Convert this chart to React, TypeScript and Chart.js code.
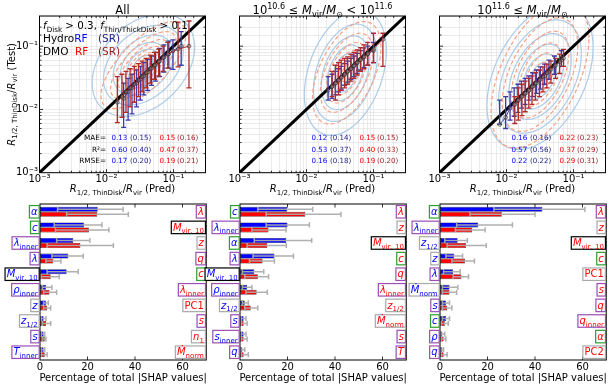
import React, { useEffect, useRef } from 'react';
import { Chart, registerables } from 'chart.js';
Chart.register(...registerables);

const W = 611, H = 386;
const FF = '"DejaVu Sans", sans-serif';

// ---------- axes ----------
const axisRange = [0.001, 0.3];
const logTickValues = [0.001, 0.01, 0.1];
const logTickLabels = ['10⁻³', '10⁻²', '10⁻¹'];
const barRange = [0, 70];
const barTickValues = [0, 20, 40, 60];

// ---------- top panels: binned medians with 16-84 ranges ----------
const hydroX1 = [0.018, 0.021, 0.024, 0.028, 0.032, 0.036, 0.041, 0.047, 0.054, 0.062, 0.072, 0.085, 0.098, 0.13];
const hydroMed1 = [0.015, 0.019, 0.022, 0.026, 0.03, 0.034, 0.039, 0.045, 0.051, 0.058, 0.067, 0.076, 0.085, 0.1];
const hydroLo1 = [0.0052, 0.0068, 0.0085, 0.011, 0.014, 0.017, 0.02, 0.024, 0.028, 0.033, 0.039, 0.045, 0.043, 0.05];
const hydroHi1 = [0.026, 0.031, 0.036, 0.042, 0.048, 0.055, 0.062, 0.07, 0.08, 0.092, 0.105, 0.12, 0.126, 0.17];
const dmoX1 = [0.0145, 0.017, 0.0195, 0.0225, 0.026, 0.03, 0.034, 0.039, 0.045, 0.052, 0.06, 0.07, 0.082, 0.117, 0.17];
const dmoMed1 = [0.013, 0.016, 0.019, 0.022, 0.025, 0.029, 0.033, 0.038, 0.044, 0.05, 0.057, 0.066, 0.075, 0.09, 0.1];
const dmoLo1 = [0.0062, 0.0075, 0.009, 0.011, 0.013, 0.016, 0.019, 0.022, 0.026, 0.03, 0.034, 0.04, 0.045, 0.047, 0.022];
const dmoHi1 = [0.033, 0.036, 0.04, 0.044, 0.048, 0.053, 0.058, 0.064, 0.072, 0.08, 0.09, 0.1, 0.115, 0.24, 0.25];

const hydroX2 = [0.021, 0.024, 0.027, 0.03, 0.033, 0.037, 0.041, 0.046, 0.051, 0.057, 0.064, 0.072, 0.082, 0.1];
const hydroMed2 = [0.02, 0.023, 0.026, 0.029, 0.032, 0.036, 0.04, 0.044, 0.049, 0.055, 0.062, 0.068, 0.076, 0.085];
const hydroLo2 = [0.014, 0.015, 0.017, 0.019, 0.021, 0.024, 0.027, 0.03, 0.033, 0.037, 0.042, 0.046, 0.05, 0.055];
const hydroHi2 = [0.033, 0.036, 0.04, 0.044, 0.048, 0.053, 0.058, 0.064, 0.07, 0.077, 0.085, 0.094, 0.1, 0.115];
const dmoX2 = [0.024, 0.027, 0.03, 0.033, 0.037, 0.041, 0.046, 0.051, 0.057, 0.064, 0.072, 0.082, 0.1, 0.138];
const dmoMed2 = [0.023, 0.026, 0.029, 0.032, 0.036, 0.04, 0.044, 0.049, 0.055, 0.061, 0.068, 0.076, 0.09, 0.128];
const dmoLo2 = [0.016, 0.014, 0.017, 0.02, 0.022, 0.025, 0.028, 0.031, 0.035, 0.04, 0.044, 0.05, 0.055, 0.048];
const dmoHi2 = [0.04, 0.05, 0.055, 0.06, 0.064, 0.068, 0.074, 0.08, 0.087, 0.095, 0.105, 0.115, 0.16, 0.16];

const hydroX3 = [0.0079, 0.0097, 0.0113, 0.013, 0.0148, 0.0167, 0.019, 0.0215, 0.0245, 0.028, 0.032, 0.037, 0.043, 0.052, 0.066];
const hydroMed3 = [0.0058, 0.0075, 0.0105, 0.012, 0.014, 0.016, 0.018, 0.02, 0.023, 0.026, 0.03, 0.034, 0.04, 0.048, 0.06];
const hydroLo3 = [0.0058, 0.005, 0.0068, 0.0078, 0.009, 0.0105, 0.012, 0.014, 0.016, 0.018, 0.021, 0.025, 0.03, 0.036, 0.048];
const hydroHi3 = [0.014, 0.016, 0.019, 0.022, 0.025, 0.028, 0.031, 0.034, 0.038, 0.042, 0.047, 0.052, 0.06, 0.07, 0.085];
const dmoX3 = [0.0133, 0.015, 0.017, 0.019, 0.0215, 0.024, 0.027, 0.031, 0.035, 0.04, 0.046, 0.054, 0.062, 0.071];
const dmoMed3 = [0.012, 0.014, 0.016, 0.018, 0.02, 0.023, 0.026, 0.029, 0.033, 0.038, 0.043, 0.05, 0.057, 0.065];
const dmoLo3 = [0.006, 0.0068, 0.008, 0.0092, 0.0105, 0.012, 0.014, 0.016, 0.019, 0.022, 0.026, 0.031, 0.037, 0.048];
const dmoHi3 = [0.016, 0.022, 0.025, 0.028, 0.031, 0.034, 0.038, 0.042, 0.047, 0.052, 0.058, 0.064, 0.075, 0.089];

// density contours: [log centre x, log centre y, half-width x (dex), half-height y (dex), correlation]
const hydroContour1 = [-1.45, -1.3, 0.85, 0.9, 0.35];
const dmoContour1 = [-1.45, -1.3, 0.72, 0.78, 0.7];
const hydroContour2 = [-1.42, -1.42, 0.68, 1.1, 0.35];
const dmoContour2 = [-1.4, -1.42, 0.58, 0.92, 0.5];
const hydroContour3 = [-1.5, -1.48, 0.88, 1.28, 0.4];
const dmoContour3 = [-1.5, -1.45, 0.83, 1.32, 0.5];
const hydroLevels = [0.9, 0.7, 0.53, 0.4, 0.28, 0.17];
const dmoLevels = [0.88, 0.68, 0.52, 0.38, 0.26, 0.15];

// metrics [MAE, R2, RMSE]
const metricNames = ['MAE=', 'R²=', 'RMSE='];
const hydroRF1 = [0.13, 0.6, 0.17], hydroSR1 = [0.15, 0.4, 0.2], dmoRF1 = [0.15, 0.47, 0.19], dmoSR1 = [0.16, 0.37, 0.21];
const hydroRF2 = [0.12, 0.53, 0.16], hydroSR2 = [0.14, 0.37, 0.18], dmoRF2 = [0.15, 0.4, 0.19], dmoSR2 = [0.15, 0.33, 0.2];
const hydroRF3 = [0.16, 0.57, 0.22], hydroSR3 = [0.16, 0.56, 0.22], dmoRF3 = [0.22, 0.37, 0.29], dmoSR3 = [0.23, 0.29, 0.31];

// ---------- bottom panels: SHAP importances ----------
const hydroFeat1 = ['α', 'c', 'λ_inner', 'λ', 'M_vir, 10', 'ρ_inner', 'z', 'z_1/2', 's', 'T_inner'];
const hydroVal1 = [24.3, 18.5, 14, 11.9, 11.2, 2.5, 2.5, 1.5, 1.5, 1.5];
const hydroErrLo1 = [7.4, 6, 7, 5, 3, 1, 1.5, 0.5, 0.5, 0.5];
const hydroErrHi1 = [35, 26.1, 21, 18.2, 16.1, 5, 3.5, 2.5, 2, 2];
const dmoFeat1 = ['λ', 'M_vir, 10', 'z', 'q', 'c', 'λ_inner', 'PC1', 's', 'n_1', 'Ṁ_norm'];
const dmoVal1 = [24.1, 20.6, 17, 5.6, 4.5, 4, 3, 2.5, 2, 2];
const dmoErrLo1 = [11.2, 6.5, 3, 2.5, 0.5, 1.5, 1.5, 1, 1, 0.5];
const dmoErrHi1 = [37.2, 29, 30.9, 8.8, 8.1, 7, 4.5, 4.5, 2.5, 3];

const hydroFeat2 = ['c', 'λ_inner', 'α', 'λ', 'M_vir, 10', 'ρ_inner', 'z_1/2', 's', 's_inner', 'q'];
const hydroVal2 = [19.9, 20, 19.5, 14.5, 6, 3, 2, 1.5, 1.5, 1];
const hydroErrLo2 = [7.5, 11, 6, 5.5, 1, 1, 1, 0.5, 0.5, 0.3];
const hydroErrHi2 = [30.6, 29.2, 30.2, 22.5, 10, 5, 3.5, 2.5, 2.5, 2];
const dmoFeat2 = ['λ', 'z', 'M_vir, 10', 'c', 'q', 'λ_inner', 'z_1/2', 'Ṁ_norm', 's', 'T'];
const dmoVal2 = [27.5, 12, 11.5, 9.5, 7.5, 7, 4.5, 1.5, 1.5, 1.5];
const dmoErrLo2 = [11, 5, 3, 4, 2, 2.5, 2, 0.5, 0.5, 0.5];
const dmoErrHi2 = [42.5, 19.4, 19.5, 14.5, 12, 11.5, 7.5, 3, 3, 3.5];

const hydroFeat3 = ['α', 'λ_inner', 'z_1/2', 'z', 'λ', 'Ṁ_norm', 's', 'c', 'ρ', 'q'];
const hydroVal3 = [43.1, 16.1, 7.4, 6, 5.5, 4, 2.5, 2.5, 1, 1];
const hydroErrLo3 = [22.7, 7, 2, 2.5, 1.5, 1, 1, 1, 0.3, 0.3];
const hydroErrHi3 = [61, 30.5, 11.5, 9.5, 8.5, 7.5, 4, 4, 2, 1.5];
const dmoFeat3 = ['λ', 'z', 'M_vir, 10', 'c', 'PC1', 's', 'q', 'q_inner', 'α', 'PC2'];
const dmoVal3 = [26, 13.5, 10.9, 10.5, 9, 4, 3, 2, 1.5, 1.5];
const dmoErrLo3 = [12.6, 6.5, 3, 5, 5.5, 1, 1, 0.5, 0.5, 0.5];
const dmoErrHi3 = [40, 19, 19.5, 14.5, 12, 7, 5, 3.5, 2.5, 3];

const greenFeats = ['α', 'c'];
const purpleFeats = ['λ', 'λ_inner', 'ρ_inner', 'ρ', 's', 's_inner', 'T_inner', 'T', 'q', 'q_inner'];
const blackFeats = ['M_vir, 10'];

const COL = {
  hydro: '#0000ff', hydroSR: '#24248f', dmo: '#ff0000', dmoSR: '#9b1b1b',
  hydroErr: '#3a3aa8', dmoErr: '#b02a2a', contourH: '#abcbe8', contourD: '#f6a184',
  barErr: 'rgba(172,172,172,0.95)', green: '#2e9e2e', purple: '#9b4fb5', gray: '#a8a8a8',
};

type Seg = { t: string; it?: boolean; sub?: boolean; sup?: boolean; c?: string };

const titleSegs: Seg[][] = [
  [{ t: 'All' }],
  [{ t: '10' }, { t: '10.6', sup: true }, { t: ' ≤ ' }, { t: 'M', it: true }, { t: 'vir', sub: true }, { t: '/' }, { t: 'M', it: true }, { t: '⊙', sub: true }, { t: ' < ' }, { t: '10' }, { t: '11.6', sup: true }],
  [{ t: '10' }, { t: '11.6', sup: true }, { t: ' ≤ ' }, { t: 'M', it: true }, { t: 'vir', sub: true }, { t: '/' }, { t: 'M', it: true }, { t: '⊙', sub: true }],
];

const topPanels = [
  { hx: hydroX1, hm: hydroMed1, hl: hydroLo1, hh: hydroHi1, dx: dmoX1, dm: dmoMed1, dl: dmoLo1, dh: dmoHi1, hc: hydroContour1, dc: dmoContour1, met: [hydroRF1, hydroSR1, dmoRF1, dmoSR1] },
  { hx: hydroX2, hm: hydroMed2, hl: hydroLo2, hh: hydroHi2, dx: dmoX2, dm: dmoMed2, dl: dmoLo2, dh: dmoHi2, hc: hydroContour2, dc: dmoContour2, met: [hydroRF2, hydroSR2, dmoRF2, dmoSR2] },
  { hx: hydroX3, hm: hydroMed3, hl: hydroLo3, hh: hydroHi3, dx: dmoX3, dm: dmoMed3, dl: dmoLo3, dh: dmoHi3, hc: hydroContour3, dc: dmoContour3, met: [hydroRF3, hydroSR3, dmoRF3, dmoSR3] },
];
const barPanels = [
  { hf: hydroFeat1, hv: hydroVal1, hl: hydroErrLo1, hh: hydroErrHi1, df: dmoFeat1, dv: dmoVal1, dl: dmoErrLo1, dh: dmoErrHi1 },
  { hf: hydroFeat2, hv: hydroVal2, hl: hydroErrLo2, hh: hydroErrHi2, df: dmoFeat2, dv: dmoVal2, dl: dmoErrLo2, dh: dmoErrHi2 },
  { hf: hydroFeat3, hv: hydroVal3, hl: hydroErrLo3, hh: hydroErrHi3, df: dmoFeat3, dv: dmoVal3, dl: dmoErrLo3, dh: dmoErrHi3 },
];

// ---------- text helpers ----------
function segFont(s: Seg, fs: number) {
  const size = s.sub || s.sup ? fs * 0.7 : fs;
  return `${s.it ? 'italic ' : ''}${size}px ${FF}`;
}
function richWidth(ctx: CanvasRenderingContext2D, segs: Seg[], fs: number) {
  let w = 0;
  for (const s of segs) { ctx.font = segFont(s, fs); w += ctx.measureText(s.t).width; }
  return w;
}
function drawRich(ctx: CanvasRenderingContext2D, segs: Seg[], x: number, y: number, fs: number, align = 'left', color = '#000') {
  const w = richWidth(ctx, segs, fs);
  let cx = align === 'left' ? x : align === 'center' ? x - w / 2 : x - w;
  ctx.textAlign = 'left';
  ctx.textBaseline = 'alphabetic';
  for (const s of segs) {
    ctx.font = segFont(s, fs);
    ctx.fillStyle = s.c || color;
    const dy = s.sub ? fs * 0.28 : s.sup ? -fs * 0.42 : 0;
    ctx.fillText(s.t, cx, y + dy);
    cx += ctx.measureText(s.t).width;
  }
  return w;
}
function featSegs(f: string): Seg[] {
  const [main, sub] = f.split('_');
  const segs: Seg[] = [{ t: main, it: !/^PC/.test(main) }];
  if (sub) segs.push({ t: sub, sub: true });
  return segs;
}
function boxColor(f: string) {
  if (greenFeats.includes(f)) return COL.green;
  if (purpleFeats.includes(f)) return COL.purple;
  if (blackFeats.includes(f)) return '#000';
  return COL.gray;
}
function drawBoxLabel(ctx: CanvasRenderingContext2D, f: string, xRight: number, yc: number, color: string) {
  const fs = 10, padX = 1.6, h = 12.5;
  const segs = featSegs(f);
  const w = richWidth(ctx, segs, fs);
  const bx = xRight - w - 2 * padX;
  ctx.fillStyle = '#fff';
  ctx.fillRect(bx, yc - h / 2, w + 2 * padX, h);
  ctx.strokeStyle = boxColor(f);
  ctx.lineWidth = 1.2;
  ctx.strokeRect(bx, yc - h / 2, w + 2 * padX, h);
  drawRich(ctx, segs, bx + padX, yc + 3.2, fs, 'left', color);
}
function isDecade(v: number) {
  const l = Math.log10(v);
  return Math.abs(l - Math.round(l)) < 1e-6;
}
function inwardTicks(ctx: CanvasRenderingContext2D, scale: any, a: any, axis: 'x' | 'y', major: (v: number) => boolean) {
  ctx.strokeStyle = '#000';
  ctx.lineWidth = 0.8;
  for (const t of scale.ticks) {
    const len = major(t.value) ? 3.5 : 2;
    const p = scale.getPixelForValue(t.value);
    if (axis === 'x' && (p <= a.left + 0.5 || p >= a.right - 0.5)) continue;
    if (axis === 'y' && (p <= a.top + 0.5 || p >= a.bottom - 0.5)) continue;
    ctx.beginPath();
    if (axis === 'x') {
      ctx.moveTo(p, a.bottom); ctx.lineTo(p, a.bottom - len);
      ctx.moveTo(p, a.top); ctx.lineTo(p, a.top + len);
    } else {
      ctx.moveTo(a.left, p); ctx.lineTo(a.left + len, p);
      ctx.moveTo(a.right, p); ctx.lineTo(a.right - len, p);
    }
    ctx.stroke();
  }
}
function frame(ctx: CanvasRenderingContext2D, a: any) {
  ctx.strokeStyle = '#000';
  ctx.lineWidth = 1;
  ctx.setLineDash([]);
  ctx.strokeRect(a.left, a.top, a.right - a.left, a.bottom - a.top);
}
function drawContours(ctx: CanvasRenderingContext2D, xs: any, ys: any, p: number[], levels: number[], color: string, dash: number[]) {
  const [cx, cy, rx, ry, rho] = p;
  const s = Math.sqrt(1 - rho * rho);
  ctx.strokeStyle = color;
  ctx.lineWidth = 1.2;
  ctx.setLineDash(dash);
  for (const k of levels) {
    ctx.beginPath();
    for (let j = 0; j <= 90; j++) {
      const t = (j / 90) * 2 * Math.PI;
      const lx = cx + k * rx * Math.cos(t);
      const ly = cy + k * ry * (rho * Math.cos(t) + s * Math.sin(t));
      const px = xs.getPixelForValue(Math.pow(10, lx));
      const py = ys.getPixelForValue(Math.pow(10, ly));
      if (j === 0) ctx.moveTo(px, py); else ctx.lineTo(px, py);
    }
    ctx.stroke();
  }
  ctx.setLineDash([]);
}
function errBars(ctx: CanvasRenderingContext2D, xs: any, ys: any, x: number[], lo: number[], hi: number[], color: string) {
  ctx.strokeStyle = color;
  ctx.lineWidth = 1.3;
  for (let i = 0; i < x.length; i++) {
    const px = xs.getPixelForValue(x[i]);
    const p1 = ys.getPixelForValue(lo[i]);
    const p2 = ys.getPixelForValue(hi[i]);
    ctx.beginPath();
    ctx.moveTo(px, p1); ctx.lineTo(px, p2);
    ctx.moveTo(px - 2.5, p1); ctx.lineTo(px + 2.5, p1);
    ctx.moveTo(px - 2.5, p2); ctx.lineTo(px + 2.5, p2);
    ctx.stroke();
  }
}
function tickText(ctx: CanvasRenderingContext2D, s: string, x: number, y: number, align: CanvasTextAlign) {
  ctx.font = `10px ${FF}`;
  ctx.fillStyle = '#000';
  ctx.textAlign = align;
  ctx.textBaseline = 'middle';
  ctx.fillText(s, x, y);
}

const axisTitleX: Seg[] = [{ t: 'R', it: true }, { t: '1/2, ThinDisk', sub: true }, { t: '/' }, { t: 'R', it: true }, { t: 'vir', sub: true }, { t: ' (Pred)' }];
const axisTitleY: Seg[] = [{ t: 'R', it: true }, { t: '1/2, ThinDisk', sub: true }, { t: '/' }, { t: 'R', it: true }, { t: 'vir', sub: true }, { t: ' (Test)' }];

function topPlugin(k: number) {
  const p = topPanels[k];
  return {
    id: 'topDecor' + k,
    beforeDatasetsDraw(chart: any) {
      const ctx = chart.ctx, a = chart.chartArea;
      ctx.save();
      ctx.beginPath();
      ctx.rect(a.left, a.top, a.right - a.left, a.bottom - a.top);
      ctx.clip();
      drawContours(ctx, chart.scales.x, chart.scales.y, p.hc, hydroLevels, COL.contourH, []);
      drawContours(ctx, chart.scales.x, chart.scales.y, p.dc, dmoLevels, COL.contourD, [4, 2.5]);
      ctx.restore();
    },
    beforeDatasetDraw(chart: any, args: any) {
      if (args.index !== 1) return;
      const ctx = chart.ctx, a = chart.chartArea;
      ctx.save();
      ctx.beginPath();
      ctx.rect(a.left, a.top, a.right - a.left, a.bottom - a.top);
      ctx.clip();
      errBars(ctx, chart.scales.x, chart.scales.y, p.hx, p.hl, p.hh, COL.hydroErr);
      errBars(ctx, chart.scales.x, chart.scales.y, p.dx, p.dl, p.dh, COL.dmoErr);
      ctx.restore();
    },
    afterDraw(chart: any) {
      const ctx = chart.ctx, a = chart.chartArea, xs = chart.scales.x, ys = chart.scales.y;
      ctx.save();
      frame(ctx, a);
      inwardTicks(ctx, xs, a, 'x', isDecade);
      inwardTicks(ctx, ys, a, 'y', isDecade);
      logTickValues.forEach((v, i) => {
        tickText(ctx, logTickLabels[i], xs.getPixelForValue(v), a.bottom + 7, 'center');
        if (k === 0) tickText(ctx, logTickLabels[i], a.left - 1.5, ys.getPixelForValue(v), 'right');
      });
      const mid = (a.left + a.right) / 2;
      drawRich(ctx, titleSegs[k], mid, 13.5, 11.5, 'center');
      drawRich(ctx, axisTitleX, mid, 192, 10, 'center');
      if (k === 0) {
        ctx.save();
        ctx.translate(14.5, (a.top + a.bottom) / 2);
        ctx.rotate(-Math.PI / 2);
        drawRich(ctx, axisTitleY, 0, 0, 10, 'center');
        ctx.restore();
        const lx = a.left + 3.5;
        drawRich(ctx, [{ t: 'f', it: true }, { t: 'Disk', sub: true }, { t: ' > 0.3, ' }, { t: 'f', it: true }, { t: 'Thin/ThickDisk', sub: true }, { t: ' > 0.1' }], lx, 29, 10.3);
        const w = drawRich(ctx, [{ t: 'Hydro' }], lx, 42, 10.5);
        drawRich(ctx, [{ t: 'RF', c: COL.hydro }], lx + w, 42, 10.5);
        drawRich(ctx, [{ t: '(SR)', c: COL.hydroSR }], lx + 55, 42, 10.5);
        drawRich(ctx, [{ t: 'DMO' }], lx, 55, 10.5);
        drawRich(ctx, [{ t: 'RF', c: COL.dmo }], lx + 32, 55, 10.5);
        drawRich(ctx, [{ t: '(SR)', c: COL.dmoSR }], lx + 55, 55, 10.5);
      }
      const rows = [139.8, 151.5, 163.2];
      const cols = [72, 90.5, 120, 137.5];
      const colors = [COL.hydro, COL.hydroSR, COL.dmo, COL.dmoSR];
      rows.forEach((y, r) => {
        if (k === 0) drawRich(ctx, [{ t: metricNames[r] }], a.left + 66.5, y, 7.3, 'right');
        p.met.forEach((arr, c) => {
          const s = c % 2 === 1 ? `(${arr[r].toFixed(2)})` : arr[r].toFixed(2);
          drawRich(ctx, [{ t: s }], a.left + cols[c], y, 7.1, 'left', colors[c]);
        });
      });
      ctx.restore();
    },
  };
}

function barPlugin(k: number) {
  const p = barPanels[k];
  return {
    id: 'barDecor' + k,
    afterDatasetsDraw(chart: any) {
      const ctx = chart.ctx, a = chart.chartArea, xs = chart.scales.x, ys = chart.scales.y;
      ctx.save();
      [[p.hl, p.hh], [p.dl, p.dh]].forEach(([lo, hi], di) => {
        const meta = chart.getDatasetMeta(di);
        meta.data.forEach((el: any, i: number) => {
          const y = el.y;
          const x1 = xs.getPixelForValue(lo[i]);
          const x2 = xs.getPixelForValue(hi[i]);
          ctx.strokeStyle = COL.barErr;
          ctx.lineWidth = 1.5;
          ctx.beginPath();
          ctx.moveTo(x1, y); ctx.lineTo(x2, y);
          ctx.moveTo(x1, y - 2.6); ctx.lineTo(x1, y + 2.6);
          ctx.moveTo(x2, y - 2.6); ctx.lineTo(x2, y + 2.6);
          ctx.stroke();
        });
      });
      frame(ctx, a);
      inwardTicks(ctx, xs, a, 'x', () => true);
      barTickValues.forEach((v) => tickText(ctx, String(v), xs.getPixelForValue(v), a.bottom + 7, 'center'));
      p.hf.forEach((f, i) => {
        const yc = ys.getPixelForValue(i);
        drawBoxLabel(ctx, f, a.left - 0.8, yc, COL.hydro);
        drawBoxLabel(ctx, p.df[i], a.right - 0.8, yc, COL.dmo);
      });
      drawRich(ctx, [{ t: 'Percentage of total |SHAP values|' }], (a.left + a.right) / 2, 380.5, 10, 'center');
      ctx.restore();
    },
  };
}

function zeroFit(which: 'w' | 'h') {
  return (s: any) => {
    if (which === 'w') s.width = 0; else s.height = 0;
    s.paddingLeft = 0; s.paddingRight = 0; s.paddingTop = 0; s.paddingBottom = 0;
  };
}

function makeTop(canvas: HTMLCanvasElement, k: number) {
  const p = topPanels[k];
  const L = 39.5 + 200 * k, R = L + 166, T = 16, B = 172.7;
  const pts = (xs: number[], ms: number[]) => xs.map((x, i) => ({ x, y: ms[i] }));
  const grid = { color: '#e3e3e3', lineWidth: 0.7, drawTicks: false };
  const medStyle = (c: string) => ({
    showLine: true, borderColor: c, borderWidth: 1, pointRadius: 1.9, pointBorderWidth: 0.8,
    pointBorderColor: 'rgba(40,40,40,0.75)', pointBackgroundColor: 'rgba(160,160,160,0.3)',
  });
  return new Chart(canvas, {
    type: 'scatter',
    data: {
      datasets: [
        { data: pts(p.dx, p.dm), ...medStyle(COL.dmoErr) },
        { data: pts(p.hx, p.hm), ...medStyle(COL.hydroErr) },
        { data: axisRange.map((v) => ({ x: v, y: v })), showLine: true, borderColor: '#000', borderWidth: 3, pointRadius: 0 },
      ],
    } as any,
    options: {
      responsive: false, animation: false, devicePixelRatio: 1, events: [],
      layout: { padding: { left: L, right: W - R, top: T, bottom: H - B } },
      plugins: { legend: { display: false }, tooltip: { enabled: false } },
      scales: {
        x: {
          type: 'logarithmic', min: axisRange[0], max: axisRange[1], grid, border: { display: false },
          ticks: { display: false, autoSkip: false }, afterFit: zeroFit('h'),
        },
        y: {
          type: 'logarithmic', min: axisRange[0], max: axisRange[1], grid, border: { display: false },
          ticks: { display: false, autoSkip: false }, afterFit: zeroFit('w'),
        },
      },
    } as any,
    plugins: [topPlugin(k)],
  });
}

function makeBar(canvas: HTMLCanvasElement, k: number) {
  const p = barPanels[k];
  const L = 40 + 200 * k, R = L + 166.25, T = 204, B = 360;
  const common = { borderColor: '#1a1a1a', borderWidth: 0.6, borderSkipped: false, categoryPercentage: 0.64, barPercentage: 1 };
  return new Chart(canvas, {
    type: 'bar',
    data: {
      labels: p.hf.map((f, i) => `${f} / ${p.df[i]}`),
      datasets: [
        { data: p.hv, backgroundColor: COL.hydro, ...common },
        { data: p.dv, backgroundColor: COL.dmo, ...common },
      ],
    } as any,
    options: {
      indexAxis: 'y', responsive: false, animation: false, devicePixelRatio: 1, events: [],
      layout: { padding: { left: L, right: W - R, top: T, bottom: H - B } },
      plugins: { legend: { display: false }, tooltip: { enabled: false } },
      scales: {
        x: {
          type: 'linear', min: barRange[0], max: barRange[1], grid: { display: false, drawTicks: false }, border: { display: false },
          ticks: { display: false, stepSize: 20, includeBounds: false }, afterFit: zeroFit('h'),
        },
        y: {
          type: 'category', grid: { display: false, drawTicks: false }, border: { display: false },
          ticks: { display: false }, afterFit: zeroFit('w'),
        },
      },
    } as any,
    plugins: [barPlugin(k)],
  });
}

function Panel({ make }: { make: (c: HTMLCanvasElement) => Chart }) {
  const ref = useRef<HTMLCanvasElement>(null);
  useEffect(() => {
    const ch = make(ref.current as HTMLCanvasElement);
    return () => ch.destroy();
  }, []);
  return <canvas ref={ref} width={W} height={H} style={{ position: 'absolute', left: 0, top: 0, width: W, height: H }} />;
}

export default function App() {
  return (
    <div style={{ position: 'fixed', left: 0, top: 0, width: W, height: H, background: '#fff', overflow: 'hidden' }}>
      {[0, 1, 2].map((k) => <Panel key={'t' + k} make={(c) => makeTop(c, k)} />)}
      {[0, 1, 2].map((k) => <Panel key={'b' + k} make={(c) => makeBar(c, k)} />)}
    </div>
  );
}
